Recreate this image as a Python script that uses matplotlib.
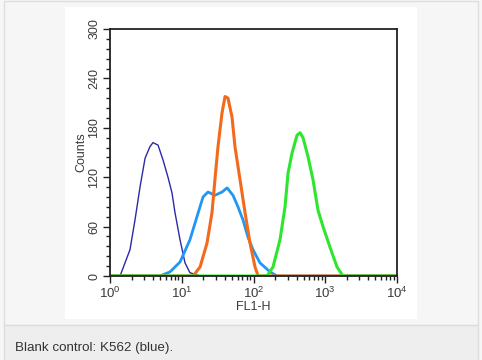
import numpy as np
import matplotlib
matplotlib.use("Agg")
import matplotlib.pyplot as plt
from matplotlib.patches import Rectangle
from matplotlib.ticker import FixedLocator, LogLocator, NullFormatter

plt.rcParams['font.family'] = ['Liberation Sans', 'DejaVu Sans']
plt.rcParams['mathtext.default'] = 'regular'

# histogram traces (FL1-H value, counts)
k562_x = [1.0, 1.38, 1.9, 2.23, 2.62, 3.08, 3.6, 3.97, 4.67, 5.48, 6.43, 7.31, 8.05, 9.46, 11.1, 13.0, 18.0, 10000]
k562_y = [0, 0, 32, 68, 108, 143, 157, 162, 159, 141, 120, 101, 77, 44, 16, 4, 0, 0]

lblue_x = [1.0, 4.98, 6.86, 9.46, 13.0, 16.3, 19.8, 23.2, 29.0, 36.4, 42.8, 51.8, 60.8, 71.4, 83.8, 98.4, 123, 170, 213, 10000]
lblue_y = [0, 0, 5, 17, 44, 72, 96, 102, 98, 102, 107, 98, 84, 68, 47, 32, 16, 5, 0, 0]

orange_x = [1.0, 14.4, 18.0, 22.5, 26.4, 29.0, 32.0, 36.4, 40.1, 44.1, 50.2, 55.2, 64.9, 76.2, 89.4, 105, 116, 10000]
orange_y = [0, 0, 11, 40, 77, 117, 157, 198, 218, 216, 193, 157, 117, 77, 40, 11, 0, 0]

green_x = [1.0, 154, 187, 234, 275, 303, 344, 404, 445, 490, 575, 675, 792, 931, 1164, 1459, 1766, 10000]
green_y = [0, 0, 11, 44, 84, 125, 149, 171, 174, 168, 145, 117, 80, 60, 35, 11, 0, 0]

y_ticks = [0, 60, 120, 180, 240, 300]
x_ticks = [1, 10, 100, 1000, 10000]
x_labels = ['$10^{0}$', '$10^{1}$', '$10^{2}$', '$10^{3}$', '$10^{4}$']

W, H = 482, 360
fig = plt.figure(figsize=(W / 100, H / 100), dpi=100, facecolor='#f5f6f5')


def box(x0, y0, x1, y1, **kw):
    # rectangle given in pixel coords from top-left
    fig.patches.append(Rectangle((x0 / W, 1 - y1 / H), (x1 - x0) / W, (y1 - y0) / H,
                                 transform=fig.transFigure, zorder=-10, **kw))


box(4, 1, 478, 325, facecolor='#f5f6f5', edgecolor='#dddddd', lw=1)
box(4, 325, 478, 361, facecolor='#eeeeee', edgecolor='#dddddd', lw=1)
box(65, 7, 417, 319, facecolor='white', edgecolor='none')
fig.text(15 / W, 1 - 348 / H, 'Blank control: K562 (blue).', fontsize=9.6,
         color='#333333', va='center', ha='left')

ax = fig.add_axes([110 / W, 1 - 276 / H, 287 / W, 247 / H])
ax.set_facecolor('white')

ax.plot(k562_x, k562_y, color='#2a2aa8', lw=1.0)
ax.plot(lblue_x, lblue_y, color='#2196f3', lw=2.0)
ax.plot(orange_x, orange_y, color='#f36a1c', lw=2.2)
ax.plot(green_x, green_y, color='#2ee62e', lw=2.2)

ax.set_xscale('log')
ax.set_xlim(1, 10000)
ax.set_ylim(0, 300)
ax.set_xticks(x_ticks)
ax.set_xticklabels(x_labels)
ax.xaxis.set_minor_locator(LogLocator(base=10, subs=np.arange(2, 10)))
ax.xaxis.set_minor_formatter(NullFormatter())
ax.set_yticks(y_ticks)
ax.yaxis.set_minor_locator(FixedLocator(np.arange(0, 301, 12)))
ax.set_yticklabels([str(v) for v in y_ticks], rotation=90, va='center')

ax.tick_params(axis='both', which='major', length=5, width=1, color='#222222',
               labelcolor='#3a3a3a', pad=2)
ax.tick_params(axis='both', which='minor', length=3, width=1, color='#222222')
ax.tick_params(axis='x', labelsize=9.5)
ax.tick_params(axis='y', labelsize=9)

for s in ax.spines.values():
    s.set_color('#222222')
    s.set_linewidth(1.3)

ax.set_xlabel('FL1-H', fontsize=9, color='#3a3a3a', labelpad=0)
ax.set_ylabel('Counts', fontsize=9, color='#3a3a3a', labelpad=1)

fig.savefig('out.png', dpi=100, facecolor=fig.get_facecolor())
